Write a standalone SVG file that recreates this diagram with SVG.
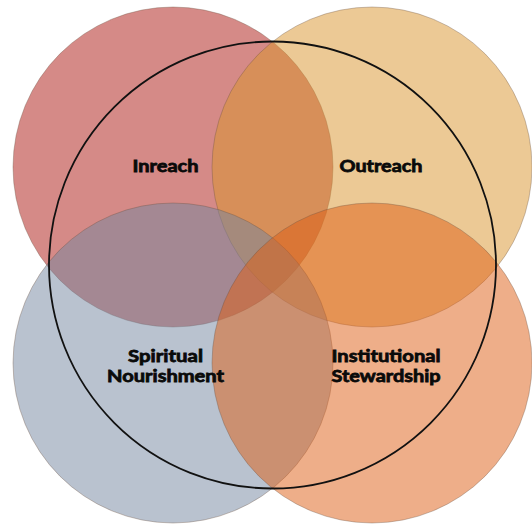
<svg xmlns="http://www.w3.org/2000/svg" width="532" height="525" viewBox="0 0 532 525">
  <style>
    .petal { fill-opacity: 0.5; stroke: #6b5040; stroke-opacity: 0.35; stroke-width: 1; }
    .ring { fill: none; stroke: #111; stroke-width: 1.8; }
    .label { font-family: Lato, "Liberation Sans", sans-serif; font-weight: 700; font-size: 17.5px; fill: #0a0a0a; stroke: #0a0a0a; stroke-width: 0.8; text-anchor: middle; }
  </style>
  <rect width="532" height="525" fill="#ffffff"/>
  <g id="inreach">
    <circle class="petal" cx="173" cy="167" r="160" fill="#ab150f"/>
  </g>
  <g id="outreach">
    <circle class="petal" cx="372" cy="167" r="160" fill="#d9932b"/>
  </g>
  <g id="spiritual-nourishment">
    <circle class="petal" cx="173" cy="363" r="160" fill="#73859f"/>
  </g>
  <g id="institutional-stewardship">
    <circle class="petal" cx="372" cy="363" r="160" fill="#dd5d13"/>
  </g>
  <g id="whole">
    <circle class="ring" cx="272.5" cy="265" r="223.5"/>
  </g>
  <g id="labels">
    <g id="label-inreach"><text class="label" x="165.5" y="172" textLength="66" lengthAdjust="spacingAndGlyphs">Inreach</text></g>
    <g id="label-outreach"><text class="label" x="381" y="172" textLength="83" lengthAdjust="spacingAndGlyphs">Outreach</text></g>
    <g id="label-spiritual-1"><text class="label" x="165.5" y="362" textLength="75" lengthAdjust="spacingAndGlyphs">Spiritual</text></g>
    <g id="label-spiritual-2"><text class="label" x="165.5" y="382" textLength="117" lengthAdjust="spacingAndGlyphs">Nourishment</text></g>
    <g id="label-institutional-1"><text class="label" x="386" y="362" textLength="109" lengthAdjust="spacingAndGlyphs">Institutional</text></g>
    <g id="label-institutional-2"><text class="label" x="386" y="382" textLength="109" lengthAdjust="spacingAndGlyphs">Stewardship</text></g>
  </g>
  <g id="connectors"/>
</svg>
